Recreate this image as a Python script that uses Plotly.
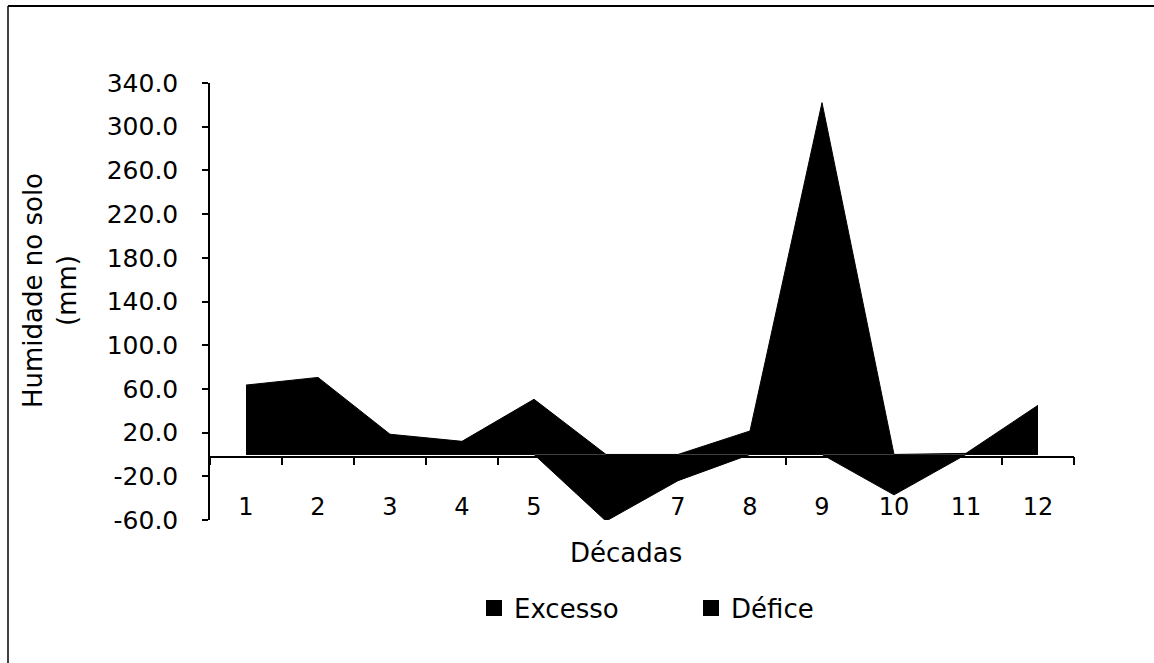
import plotly.graph_objects as go

decadas = ["1", "2", "3", "4", "5", "6", "7", "8", "9", "10", "11", "12"]
excesso = [63.5, 70.5, 18.5, 12.0, 50.5, 0.0, 0.0, 21.5, 322.0, 0.0, 1.0, 45.0]
defice = [0.0, 0.0, 0.0, 0.0, 0.0, -61.0, -24.0, 0.0, 0.0, -37.0, 0.0, 0.0]
y_ticks = [-60, -20, 20, 60, 100, 140, 180, 220, 260, 300, 340]
y_ticktext = [f"{v:.1f}" for v in y_ticks]

FONT = "DejaVu Sans"
L, R, T, B = 210, 80, 83, 143
W, H = 1154, 663
pw, ph = W - L - R, H - T - B

def px_x(px):
    return (px - L) / pw

def px_y(py):
    return (H - B - py) / ph

fig = go.Figure()
fig.add_trace(go.Scatter(x=decadas, y=excesso, mode="lines", fill="tozeroy",
                         fillcolor="black", line=dict(color="black", width=1),
                         showlegend=False, hoverinfo="skip"))
fig.add_trace(go.Scatter(x=decadas, y=defice, mode="lines", fill="tozeroy",
                         fillcolor="black", line=dict(color="black", width=1),
                         showlegend=False, hoverinfo="skip"))
for name in ["Excesso", "Défice"]:
    fig.add_trace(go.Scatter(x=[None], y=[None], mode="markers", name=name,
                             marker=dict(symbol="square", size=18, color="black")))

fig.update_layout(
    width=W, height=H,
    margin=dict(l=L, r=R, t=T, b=B, autoexpand=False),
    paper_bgcolor="white", plot_bgcolor="white",
    font=dict(family=FONT, color="black", size=24),
    xaxis=dict(type="category", range=[-0.5, 11.5], anchor="free", position=0.145,
               showline=True, linecolor="black", linewidth=1.5,
               ticks="outside", tickson="boundaries", ticklen=8, tickcolor="black",
               tickwidth=1.5, ticklabelstandoff=29,
               tickfont=dict(size=24, family=FONT), showgrid=False, zeroline=False),
    yaxis=dict(range=[-60, 340], tickvals=y_ticks, ticktext=y_ticktext,
               showline=True, linecolor="black", linewidth=1.5,
               ticks="outside", ticklen=6, tickcolor="black", tickwidth=1.5,
               ticklabelstandoff=19, tickfont=dict(size=25, family=FONT),
               showgrid=False, zeroline=False),
    legend=dict(orientation="h", x=px_x(691), xanchor="center",
                y=px_y(608), yanchor="middle", font=dict(size=26, family=FONT),
                entrywidth=172, bgcolor="rgba(0,0,0,0)"),
    annotations=[
        dict(text="Humidade no solo<br>(mm)", textangle=-90, xref="paper", yref="paper",
             x=px_x(50), y=px_y(291), xanchor="center", yanchor="middle",
             showarrow=False, font=dict(size=26, family=FONT)),
        dict(text="Décadas", xref="paper", yref="paper", x=px_x(626), y=px_y(553),
             xanchor="center", yanchor="middle", showarrow=False,
             font=dict(size=26, family=FONT)),
    ],
    shapes=[
        dict(type="line", xref="paper", yref="paper", x0=px_x(8), x1=px_x(1154),
             y0=px_y(6), y1=px_y(6), line=dict(color="black", width=2)),
        dict(type="line", xref="paper", yref="paper", x0=px_x(8), x1=px_x(8),
             y0=px_y(6), y1=px_y(663), line=dict(color="black", width=1.5)),
    ],
)

fig.write_html("out.html", config={"displayModeBar": False},
               post_script="document.body.style.margin='0px';")
